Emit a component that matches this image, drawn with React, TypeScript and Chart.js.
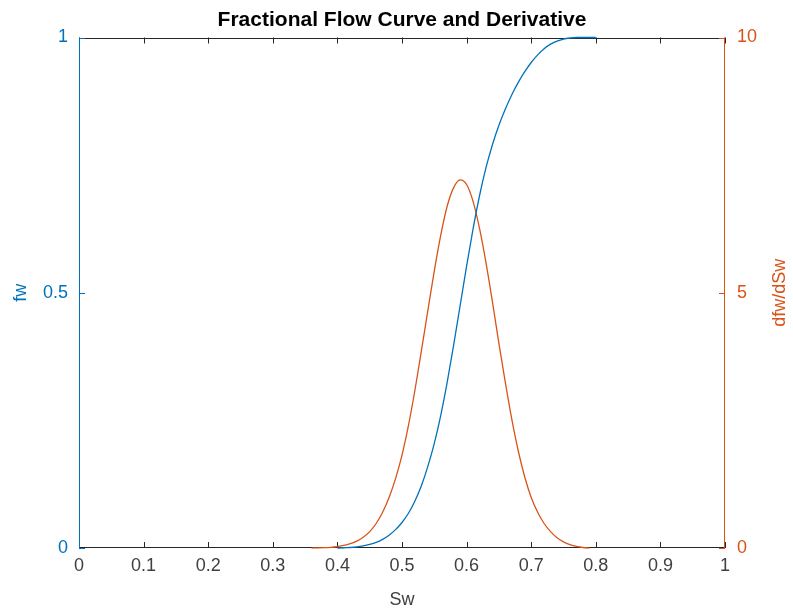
import React, { useEffect, useRef } from "react";
import { Chart, registerables } from "chart.js";

Chart.register(...registerables);

// ---- Data ----
const swFw = [
  0.40, 0.41, 0.42, 0.43, 0.44, 0.45, 0.46, 0.47, 0.48, 0.49,
  0.50, 0.51, 0.52, 0.53, 0.54, 0.55, 0.56, 0.57, 0.58, 0.59,
  0.60, 0.61, 0.62, 0.63, 0.64, 0.65, 0.66, 0.67, 0.68, 0.69,
  0.70, 0.71, 0.72, 0.73, 0.74, 0.75, 0.76, 0.77, 0.78, 0.79, 0.80,
];
const fwValues = [
  0.000, 0.0005, 0.001, 0.002, 0.004, 0.007, 0.011, 0.017, 0.025, 0.036,
  0.050, 0.068, 0.092, 0.122, 0.160, 0.205, 0.260, 0.325, 0.398, 0.475,
  0.552, 0.625, 0.690, 0.745, 0.790, 0.828, 0.860, 0.888, 0.912, 0.933,
  0.951, 0.966, 0.978, 0.987, 0.993, 0.997, 0.999, 1.000, 1.000, 1.000, 1.000,
];

const swDeriv = [
  0.36, 0.37, 0.38, 0.39, 0.40, 0.41, 0.42, 0.43, 0.44, 0.45,
  0.46, 0.47, 0.48, 0.49, 0.50, 0.51, 0.52, 0.53, 0.54, 0.55,
  0.56, 0.57, 0.58, 0.59, 0.60, 0.61, 0.62, 0.63, 0.64, 0.65,
  0.66, 0.67, 0.68, 0.69, 0.70, 0.71, 0.72, 0.73, 0.74, 0.75,
  0.76, 0.77, 0.78, 0.79,
];
const dfwValues = [
  0.000, 0.002, 0.006, 0.014, 0.028, 0.050, 0.085, 0.135, 0.21, 0.32,
  0.48, 0.70, 0.99, 1.36, 1.82, 2.40, 3.09, 3.86, 4.65, 5.43,
  6.13, 6.70, 7.06, 7.21, 7.12, 6.79, 6.26, 5.59, 4.82, 4.01,
  3.24, 2.52, 1.90, 1.39, 0.99, 0.70, 0.48, 0.32, 0.20, 0.12,
  0.065, 0.03, 0.01, 0.00,
];

const xTicks = [0, 0.1, 0.2, 0.3, 0.4, 0.5, 0.6, 0.7, 0.8, 0.9, 1];
const fwTicks = [0, 0.5, 1];
const dfwTicks = [0, 5, 10];

const TITLE = "Fractional Flow Curve and Derivative";
const X_LABEL = "Sw";
const FW_LABEL = "fw";
const DFW_LABEL = "dfw/dSw";

const BLUE = "#0072BD";
const ORANGE = "#D95319";
const GRAY = "#262626";
const TICK_GRAY = "#404040";
const FONT = "'Liberation Sans', Arial, Helvetica, sans-serif";
const TICK_SIZE = 18;
const LABEL_SIZE = 18;

const decorPlugin = {
  id: "matlabDecor",
  beforeDatasetsDraw(chart: any) {
    const { ctx, chartArea, scales } = chart;
    const { left, right, top, bottom } = chartArea;
    const tl = 6;
    ctx.save();
    ctx.lineWidth = 1;
    ctx.strokeStyle = GRAY;
    ctx.beginPath();
    ctx.moveTo(left, Math.round(top) + 0.5);
    ctx.lineTo(right, Math.round(top) + 0.5);
    ctx.moveTo(left, Math.round(bottom) - 0.5);
    ctx.lineTo(right, Math.round(bottom) - 0.5);
    ctx.stroke();
    ctx.beginPath();
    xTicks.forEach((v) => {
      const px = Math.round(scales.x.getPixelForValue(v)) + 0.5;
      ctx.moveTo(px, bottom);
      ctx.lineTo(px, bottom - tl);
      ctx.moveTo(px, top);
      ctx.lineTo(px, top + tl);
    });
    ctx.stroke();
    ctx.strokeStyle = BLUE;
    ctx.beginPath();
    ctx.moveTo(Math.round(left) + 0.5, top);
    ctx.lineTo(Math.round(left) + 0.5, bottom);
    fwTicks.forEach((v) => {
      const py = Math.round(scales.y.getPixelForValue(v)) + 0.5;
      ctx.moveTo(left, py);
      ctx.lineTo(left + tl, py);
    });
    ctx.stroke();
    ctx.strokeStyle = ORANGE;
    ctx.beginPath();
    ctx.moveTo(Math.round(right) - 0.5, top);
    ctx.lineTo(Math.round(right) - 0.5, bottom);
    dfwTicks.forEach((v) => {
      const py = Math.round(scales.y1.getPixelForValue(v)) + 0.5;
      ctx.moveTo(right, py);
      ctx.lineTo(right - tl, py);
    });
    ctx.stroke();
    ctx.restore();
  },
  afterDraw(chart: any) {
    const { ctx, chartArea } = chart;
    ctx.save();
    ctx.fillStyle = ORANGE;
    ctx.font = `${LABEL_SIZE}px ${FONT}`;
    ctx.textAlign = "center";
    ctx.textBaseline = "middle";
    ctx.translate(chart.width - 13, (chartArea.top + chartArea.bottom) / 2);
    ctx.rotate(-Math.PI / 2);
    ctx.fillText(DFW_LABEL, 0, 0);
    ctx.restore();
  },
};

export default function App() {
  const canvasRef = useRef<HTMLCanvasElement | null>(null);

  useEffect(() => {
    const canvas = canvasRef.current;
    if (!canvas) return;
    const fwData = swFw.map((x, i) => ({ x, y: fwValues[i] }));
    const dfwData = swDeriv.map((x, i) => ({ x, y: dfwValues[i] }));
    const tickFont = { family: FONT, size: TICK_SIZE };

    const chart = new Chart(canvas, {
      type: "line",
      data: {
        datasets: [
          {
            label: FW_LABEL,
            data: fwData,
            yAxisID: "y",
            borderColor: BLUE,
            borderWidth: 1.3,
            pointRadius: 0,
            fill: false,
            cubicInterpolationMode: "monotone",
            clip: 3,
          },
          {
            label: DFW_LABEL,
            data: dfwData,
            yAxisID: "y1",
            borderColor: ORANGE,
            borderWidth: 1.3,
            pointRadius: 0,
            fill: false,
            cubicInterpolationMode: "monotone",
            clip: 3,
          },
        ],
      },
      options: {
        responsive: false,
        animation: false,
        devicePixelRatio: 1,
        layout: { padding: 0 },
        plugins: {
          legend: { display: false },
          tooltip: { enabled: false },
          title: {
            display: true,
            text: TITLE,
            color: "#000000",
            fullSize: false,
            font: { family: FONT, size: 21, weight: "bold", lineHeight: 1.2 },
            padding: { top: 7.9, bottom: 4.4 },
          },
        },
        scales: {
          x: {
            type: "linear",
            min: 0,
            max: 1,
            afterFit: (s: any) => {
              s.height = 65;
            },
            afterBuildTicks: (s: any) => {
              s.ticks = xTicks.map((v) => ({ value: v }));
            },
            ticks: {
              color: TICK_GRAY,
              font: tickFont,
              padding: 7,
              maxRotation: 0,
              autoSkip: false,
              callback: (v: any) => String(v),
            },
            grid: { display: false, drawTicks: false },
            border: { display: false },
            title: {
              display: true,
              text: X_LABEL,
              color: TICK_GRAY,
              font: { family: FONT, size: LABEL_SIZE },
              padding: { top: 0, bottom: 2 },
            },
          },
          y: {
            type: "linear",
            position: "left",
            min: 0,
            max: 1,
            afterFit: (s: any) => {
              s.width = 79;
            },
            afterBuildTicks: (s: any) => {
              s.ticks = fwTicks.map((v) => ({ value: v }));
            },
            ticks: {
              color: BLUE,
              font: tickFont,
              padding: 11,
              callback: (v: any) => String(v),
            },
            grid: { display: false, drawTicks: false },
            border: { display: false },
            title: {
              display: true,
              text: FW_LABEL,
              color: BLUE,
              font: { family: FONT, size: LABEL_SIZE },
              padding: { top: 10, bottom: 0 },
            },
          },
          y1: {
            type: "linear",
            position: "right",
            min: 0,
            max: 10,
            afterFit: (s: any) => {
              s.width = 68;
            },
            afterBuildTicks: (s: any) => {
              s.ticks = dfwTicks.map((v) => ({ value: v }));
            },
            ticks: {
              color: ORANGE,
              font: tickFont,
              padding: 12,
              callback: (v: any) => String(v),
            },
            grid: { display: false, drawTicks: false },
            border: { display: false },
          },
        },
      },
      plugins: [decorPlugin],
    } as any);

    return () => {
      chart.destroy();
    };
  }, []);

  return (
    <div
      style={{
        position: "fixed",
        left: 0,
        top: 0,
        width: 793,
        height: 613,
        background: "#ffffff",
      }}
    >
      <canvas ref={canvasRef} width={793} height={613} style={{ width: 793, height: 613 }} />
    </div>
  );
}
